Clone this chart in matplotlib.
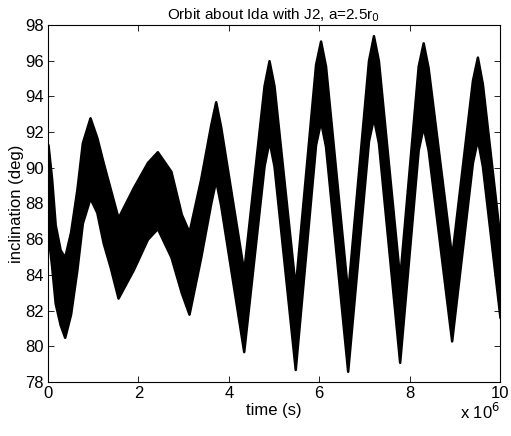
import matplotlib
matplotlib.use('Agg')
import matplotlib.pyplot as plt

# time in units of 1e6 s, upper / lower edge of the inclination band (deg)
time_e6 = [0.00, 0.08, 0.16, 0.27, 0.37, 0.50, 0.64, 0.76, 0.93, 1.08,
           1.22, 1.38, 1.55, 1.89, 2.20, 2.42, 2.72, 2.95, 3.12, 3.38,
           3.60, 3.71, 3.82, 4.33, 4.78, 4.89, 5.00, 5.47, 5.92, 6.03,
           6.14, 6.63, 7.09, 7.20, 7.31, 7.78, 8.19, 8.30, 8.41, 8.93,
           9.39, 9.50, 9.61, 10.0]
incl_upper = [91.3, 89.4, 86.8, 85.4, 85.0, 86.4, 88.8, 91.4, 92.8, 91.7,
              90.3, 88.8, 87.2, 88.9, 90.3, 90.9, 89.8, 87.4, 86.4, 89.4,
              92.4, 93.7, 92.3, 84.2, 94.6, 96.0, 94.6, 83.3, 95.8, 97.1,
              95.7, 83.0, 96.0, 97.4, 96.0, 83.8, 95.7, 97.0, 95.6, 85.0,
              94.9, 96.2, 94.7, 86.0]
incl_lower = [86.3, 84.5, 82.4, 81.2, 80.5, 81.8, 84.3, 86.9, 88.3, 87.5,
              85.8, 84.4, 82.7, 84.3, 86.0, 86.6, 85.0, 83.0, 81.8, 85.0,
              88.0, 89.3, 87.9, 79.7, 90.1, 91.5, 90.1, 78.7, 91.3, 92.6,
              91.2, 78.6, 91.5, 92.8, 91.4, 79.1, 91.0, 92.3, 91.0, 80.3,
              90.3, 91.6, 90.1, 81.6]

xticks = [0, 2, 4, 6, 8, 10]
yticks = [78, 80, 82, 84, 86, 88, 90, 92, 94, 96, 98]


def main():
    plt.rcParams['font.family'] = ['Liberation Sans', 'DejaVu Sans']
    plt.rcParams['font.size'] = 12

    fig = plt.figure(figsize=(5.11, 4.36), dpi=100)
    ax = fig.add_axes([0.0939, 0.1239, 0.8846, 0.8188])

    ax.fill_between(time_e6, incl_lower, incl_upper, color='k',
                    edgecolor='k', linewidth=1.8)

    ax.set_xlim(0, 10)
    ax.set_ylim(78, 98)
    ax.set_xticks(xticks)
    ax.set_yticks(yticks)
    ax.tick_params(direction='in', top=True, right=True, length=4,
                   width=0.6, labelsize=12, pad=3)
    for s in ax.spines.values():
        s.set_linewidth(0.8)

    ax.set_title('Orbit about Ida with J2, a=2.5r$_0$', fontsize=11, pad=4)
    ax.set_xlabel('time (s)', fontsize=12, labelpad=1)
    ax.set_ylabel('inclination (deg)', fontsize=12, labelpad=1)
    ax.text(1.0, -0.055, 'x 10$^6$', transform=ax.transAxes,
            ha='right', va='top', fontsize=12)

    fig.savefig('out.png', dpi=100)


if __name__ == "__main__":
    main()
